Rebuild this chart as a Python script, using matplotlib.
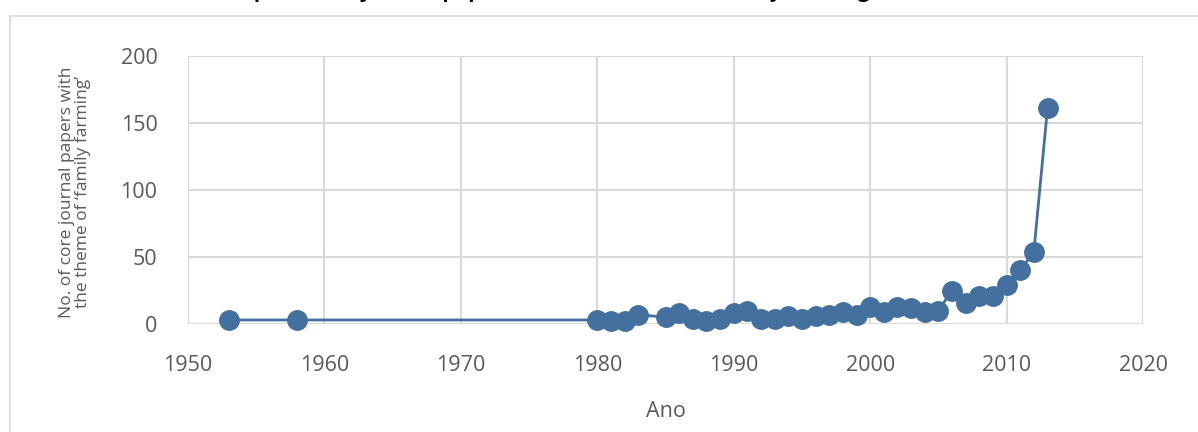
import matplotlib
matplotlib.use("Agg")
import matplotlib.pyplot as plt
from matplotlib.patches import Rectangle

years = [1953, 1958, 1980, 1981, 1982, 1983, 1985, 1986, 1987, 1988, 1989,
         1990, 1991, 1992, 1993, 1994, 1995, 1996, 1997, 1998, 1999,
         2000, 2001, 2002, 2003, 2004, 2005, 2006, 2007, 2008, 2009,
         2010, 2011, 2012, 2013]
papers = [3, 3, 3, 2, 2, 7, 5, 8, 4, 2, 4,
          8, 10, 4, 4, 6, 4, 6, 7, 9, 7,
          13, 9, 13, 12, 9, 10, 25, 16, 21, 21,
          29, 40, 54, 161]
x_ticks = [1950, 1960, 1970, 1980, 1990, 2000, 2010, 2020]
y_ticks = [0, 50, 100, 150, 200]
title = "Number of published journal papers with the theme of \u2018family farming\u2019 in recent decades"
ylabel = "No. of core journal papers with\nthe theme of \u2018family farming\u2019"
xlabel = "Ano"

plt.rcParams['font.family'] = ['Open Sans', 'DejaVu Sans']
W, H = 1198, 432
fig = plt.figure(figsize=(W / 100, H / 100), dpi=100)

# chart area border
fig.patches.append(Rectangle((10 / W, -0.05), 1.2, 1 - 16 / H + 0.05,
                             transform=fig.transFigure, fill=False,
                             edgecolor='#D9D9D9', linewidth=1.2))

left, right, top, bottom = 188, 1143, 56, 324
ax = fig.add_axes([left / W, 1 - bottom / H, (right - left) / W, (bottom - top) / H])

color = '#43709E'
ax.plot(years, papers, color=color, linewidth=2, marker='o', markersize=14,
        markeredgecolor=color, markerfacecolor=color, zorder=3, clip_on=False)

ax.set_xlim(1950, 2020)
ax.set_ylim(0, 200)
ax.set_xticks(x_ticks)
ax.set_yticks(y_ticks)
ax.grid(True, color='#D9D9D9', linewidth=1.5)
ax.set_axisbelow(True)
for s in ax.spines.values():
    s.set_visible(False)
ax.tick_params(length=0, labelsize=15.5, labelcolor='#595959')
ax.tick_params(axis='y', pad=22)
ax.tick_params(axis='x', pad=22)

ax.set_xlabel(xlabel, fontsize=15.5, color='#595959', labelpad=18)
fig.text(75 / W, 1 - 192 / H, ylabel, rotation=90, ha='center', va='center',
         fontsize=12.5, color='#595959', linespacing=1.0)

fig.text(0.5, 1 + 3 / H, title, ha='center', va='baseline',
         fontsize=15, fontweight='bold', color='black')

fig.savefig('out.png', dpi=100)
